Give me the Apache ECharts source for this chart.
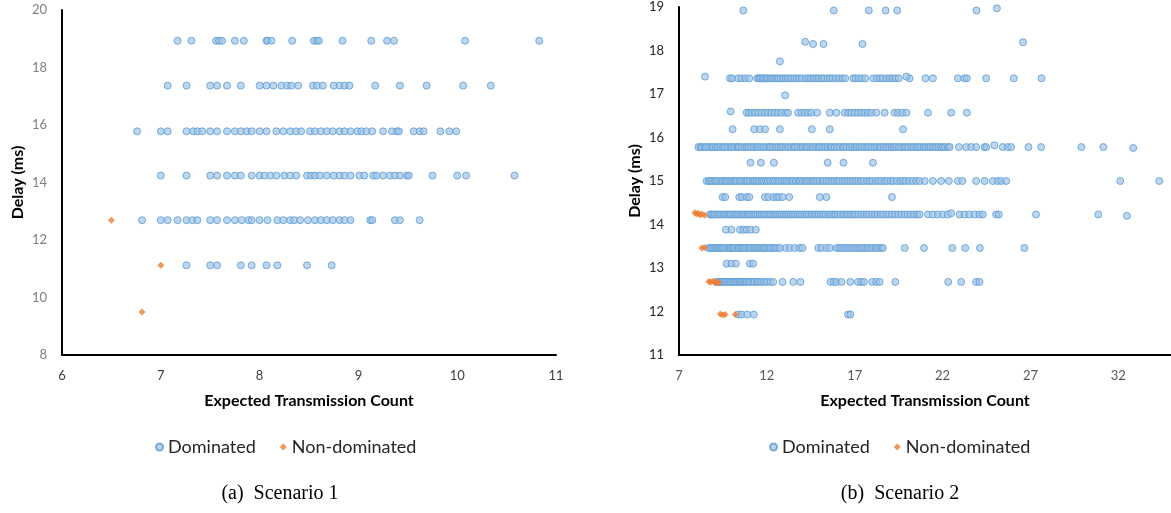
<!DOCTYPE html>
<html>
<head>
<meta charset="utf-8">
<script src="https://cdn.jsdelivr.net/npm/echarts@6/dist/echarts.min.js"></script>
<style>
  html, body { margin: 0; padding: 0; background: #fff; }
  #chart { width: 1171px; height: 513px; }
</style>
</head>
<body>
<div id="chart"></div>
<script>
// ---- Scenario 1: delay levels (ms) and ETX values of dominated solutions per level ----
const s1Levels = [18.93, 17.37, 15.78, 14.24, 12.69, 11.12];
const s1DominatedEtx = [
  [7.17, 7.31, 7.56, 7.59, 7.62, 7.75, 7.84, 8.07, 8.08, 8.12, 8.33, 8.55, 8.58, 8.60, 8.84, 9.13, 9.29, 9.36, 10.08, 10.83],
  [7.07, 7.26, 7.50, 7.57, 7.67, 7.81, 8.00, 8.07, 8.14, 8.22, 8.28, 8.32, 8.39, 8.54, 8.58, 8.64, 8.75, 8.81, 8.86, 8.91, 9.17, 9.42, 9.69, 10.06, 10.34],
  [6.76, 7.00, 7.07, 7.26, 7.33, 7.37, 7.42, 7.50, 7.57, 7.67, 7.75, 7.81, 7.87, 7.92, 8.00, 8.07, 8.17, 8.24, 8.31, 8.37, 8.42, 8.51, 8.56, 8.62, 8.68, 8.74, 8.81, 8.86, 8.92, 8.99, 9.03, 9.08, 9.14, 9.25, 9.34, 9.39, 9.41, 9.56, 9.62, 9.66, 9.83, 9.92, 9.99],
  [7.00, 7.26, 7.50, 7.57, 7.67, 7.75, 7.81, 7.92, 8.00, 8.05, 8.11, 8.17, 8.25, 8.31, 8.37, 8.48, 8.52, 8.56, 8.61, 8.68, 8.75, 8.81, 8.86, 8.92, 9.01, 9.06, 9.15, 9.18, 9.25, 9.32, 9.37, 9.42, 9.49, 9.51, 9.75, 10.00, 10.09, 10.58],
  [6.81, 7.00, 7.07, 7.17, 7.26, 7.32, 7.37, 7.50, 7.57, 7.67, 7.75, 7.82, 7.89, 7.92, 8.00, 8.08, 8.18, 8.24, 8.31, 8.35, 8.41, 8.49, 8.56, 8.62, 8.68, 8.74, 8.81, 8.86, 8.92, 9.12, 9.14, 9.37, 9.42, 9.62],
  [7.26, 7.50, 7.57, 7.81, 7.92, 8.07, 8.18, 8.48, 8.73]
];
// [ETX, delay] of the non-dominated solutions
const s1NonDominated = [[6.50, 12.69], [7.00, 11.12], [6.81, 9.50]];

// ---- Scenario 2 ----
const s2Levels = [18.92, 18.15, 17.75, 17.36, 16.97, 16.57, 16.19, 15.78, 15.42, 15.0, 14.63, 14.23, 13.88, 13.46, 13.10, 12.68, 11.93];
const s2DominatedEtx = [
  [10.66, 15.81, 17.80, 18.76, 19.42, 23.93],
  [14.63, 15.22, 17.44],
  [12.74],
  [9.90, 10.03, 10.37, 10.56, 10.79, 11.00, 11.45, 11.55, 11.62, 11.75, 11.85, 11.97, 12.05, 12.20, 12.30, 12.42, 12.55, 12.66, 12.80, 12.95, 13.08, 13.20, 13.37, 13.55, 13.70, 13.84, 14.00, 14.22, 14.35, 14.50, 14.66, 14.80, 14.95, 15.12, 15.25, 15.45, 15.60, 15.74, 15.92, 16.10, 16.30, 16.46, 16.92, 17.05, 17.22, 17.40, 17.60, 18.05, 18.26, 18.44, 18.60, 18.82, 19.00, 19.15, 19.32, 19.50, 20.12, 21.03, 21.45, 22.87, 23.25, 23.38, 24.48, 26.05, 27.63],
  [13.04],
  [10.85, 10.98, 11.13, 11.32, 11.51, 11.70, 11.89, 12.08, 12.27, 12.45, 12.64, 12.83, 13.08, 13.21, 13.78, 13.97, 14.16, 14.35, 14.54, 14.86, 15.58, 15.96, 16.43, 16.62, 16.81, 17.00, 17.19, 17.38, 17.57, 17.76, 17.95, 18.23, 18.70, 19.27, 19.46, 19.71, 19.94, 21.17, 22.49, 23.38],
  [10.05, 11.28, 11.60, 11.90, 12.74, 14.56, 15.58, 19.75],
  [8.10, 8.22, 8.30, 8.45, 8.55, 8.70, 8.86, 8.95, 9.10, 9.22, 9.35, 9.50, 9.60, 9.75, 9.92, 10.00, 10.15, 10.32, 10.40, 10.55, 10.72, 10.85, 10.95, 11.10, 11.26, 11.40, 11.50, 11.66, 11.80, 11.95, 12.12, 12.20, 12.35, 12.52, 12.65, 12.80, 12.90, 13.06, 13.20, 13.35, 13.52, 13.60, 13.75, 13.92, 14.05, 14.20, 14.30, 14.46, 14.60, 14.75, 14.92, 15.00, 15.15, 15.32, 15.45, 15.60, 15.70, 15.86, 16.00, 16.15, 16.32, 16.40, 16.55, 16.72, 16.85, 17.00, 17.10, 17.26, 17.40, 17.56, 17.70, 17.80, 17.95, 18.12, 18.25, 18.40, 18.50, 18.66, 18.80, 18.95, 19.10, 19.22, 19.35, 19.52, 19.65, 19.80, 19.90, 20.05, 20.22, 20.35, 20.50, 20.62, 20.75, 20.92, 21.05, 21.20, 21.30, 21.46, 21.60, 21.75, 21.90, 22.02, 22.15, 22.30, 22.40, 22.93, 23.35, 23.63, 23.91, 24.39, 24.48, 25.43, 25.71, 25.90, 26.89, 27.61, 29.90, 31.15],
  [11.07, 11.66, 12.40, 15.46, 16.36, 18.04],
  [8.57, 8.70, 8.78, 8.90, 9.05, 9.12, 9.25, 9.40, 9.50, 9.62, 9.70, 9.85, 9.97, 10.10, 10.20, 10.30, 10.45, 10.55, 10.70, 10.82, 10.90, 11.05, 11.20, 11.30, 11.42, 11.55, 11.70, 11.80, 11.95, 12.05, 12.20, 12.35, 12.45, 12.60, 12.70, 12.85, 13.00, 13.10, 13.25, 13.40, 13.50, 13.65, 13.80, 13.90, 14.05, 14.20, 14.30, 14.45, 14.60, 14.70, 14.85, 15.00, 15.15, 15.25, 15.40, 15.55, 15.70, 15.85, 16.00, 16.12, 16.30, 16.45, 16.60, 16.75, 16.90, 17.05, 17.20, 17.35, 17.50, 17.70, 17.85, 18.00, 18.20, 18.35, 18.50, 18.70, 18.85, 19.05, 19.20, 19.40, 19.60, 19.75, 19.90, 20.10, 20.30, 20.50, 20.69, 20.98, 21.45, 21.92, 22.36, 22.87, 23.12, 23.91, 24.39, 24.86, 25.14, 25.33, 25.62, 32.11, 34.33],
  [9.48, 9.63, 10.43, 10.58, 10.85, 11.00, 11.89, 12.08, 12.36, 12.55, 12.70, 12.89, 13.27, 15.01, 15.39, 19.12],
  [8.76, 8.86, 8.95, 9.05, 9.18, 9.28, 9.40, 9.52, 9.62, 9.75, 9.86, 9.95, 10.08, 10.20, 10.30, 10.42, 10.55, 10.65, 10.78, 10.90, 11.00, 11.12, 11.25, 11.35, 11.48, 11.60, 11.72, 11.85, 11.96, 12.10, 12.22, 12.35, 12.48, 12.60, 12.72, 12.85, 12.98, 13.10, 13.22, 13.35, 13.48, 13.60, 13.75, 13.88, 14.00, 14.15, 14.28, 14.40, 14.55, 14.68, 14.80, 14.95, 15.08, 15.22, 15.35, 15.50, 15.62, 15.78, 15.90, 16.05, 16.20, 16.35, 16.50, 16.62, 16.78, 16.92, 17.05, 17.22, 17.38, 17.52, 17.68, 17.82, 18.00, 18.15, 18.30, 18.48, 18.62, 18.80, 18.95, 19.12, 19.30, 19.48, 19.65, 19.84, 20.02, 20.20, 20.38, 20.55, 20.69, 21.17, 21.45, 21.73, 22.02, 22.30, 22.97, 23.25, 23.53, 23.82, 24.10, 24.29, 25.05, 25.20, 27.32, 30.86],
  [9.67, 9.99, 10.47, 10.66, 10.85, 11.07, 11.37],
  [8.67, 8.80, 8.90, 9.00, 9.10, 9.20, 9.30, 9.40, 9.50, 9.60, 9.75, 9.85, 9.95, 10.05, 10.15, 10.30, 10.40, 10.50, 10.60, 10.70, 10.80, 10.95, 11.05, 11.15, 11.30, 11.40, 11.50, 11.60, 11.75, 11.85, 11.95, 12.10, 12.20, 12.35, 12.45, 12.60, 12.74, 13.08, 13.31, 13.59, 13.87, 14.03, 14.92, 15.11, 15.39, 15.58, 15.96, 16.10, 16.25, 16.40, 16.55, 16.70, 16.85, 17.00, 17.15, 17.30, 17.45, 17.60, 17.75, 17.90, 18.05, 18.20, 18.35, 18.50, 18.61, 19.84, 20.94, 22.55, 23.29, 24.12, 26.66],
  [9.71, 9.99, 10.24, 11.03, 11.22],
  [9.14, 9.25, 9.35, 9.45, 9.55, 9.65, 9.75, 9.85, 9.95, 10.05, 10.15, 10.25, 10.35, 10.45, 10.55, 10.65, 10.75, 10.85, 10.95, 11.05, 11.20, 11.30, 11.45, 11.55, 11.70, 11.85, 12.00, 12.20, 12.36, 12.89, 13.50, 13.91, 15.62, 15.81, 15.96, 16.24, 16.75, 17.19, 17.38, 17.53, 18.00, 18.23, 18.42, 19.31, 22.32, 23.06, 23.91, 24.10],
  [10.37, 10.56, 10.88, 11.26, 16.62, 16.75]
];
// dominated points sitting slightly off their level: [ETX, delay]
const s2DominatedOffLevel = [[25.09, 18.97], [14.18, 18.20], [26.58, 18.19], [8.48, 17.40], [19.94, 17.40], [9.94, 16.60], [24.95, 15.82], [32.85, 15.76], [22.49, 14.26], [32.49, 14.20]];
const s2NonDominated = [
  [7.90, 14.27], [8.00, 14.24], [8.10, 14.26], [8.20, 14.22], [8.30, 14.24], [8.45, 14.21],
  [8.30, 13.46], [8.45, 13.47],
  [8.70, 12.69], [8.80, 12.67], [8.95, 12.70], [9.05, 12.66], [9.15, 12.68], [9.25, 12.66],
  [9.35, 11.94], [9.50, 11.92], [9.62, 11.93], [10.20, 11.93]
];

// axis ticks
const s1XTicks = { min: 6, max: 11, interval: 1 };
const s1YTicks = { min: 8, max: 20, interval: 2 };
const s2XTickValues = [7, 12, 17, 22, 27, 32];
const s2XRange = { min: 7, max: 35 };
const s2YTicks = { min: 11, max: 19, interval: 1 };

function rowsToPoints(levels, rows) {
  const pts = [];
  rows.forEach((xs, i) => xs.forEach(x => pts.push([x, levels[i]])));
  return pts;
}

const s1Dominated = rowsToPoints(s1Levels, s1DominatedEtx);
const s2Dominated = rowsToPoints(s2Levels, s2DominatedEtx).concat(s2DominatedOffLevel);

const FONT = 'Lato, "Open Sans", sans-serif';
const domStyle = { color: 'rgba(157,195,230,0.85)', borderColor: '#5b9bd5', borderWidth: 1 };
const nonDomStyle = { color: '#ed7d31' };
const axisLine = { show: true, onZero: false, lineStyle: { color: '#000', width: 2 } };

function legendAt(left) {
  return {
    left: left, top: 433, orient: 'horizontal',
    itemWidth: 7, itemHeight: 7, itemGap: 24,
    textStyle: { fontFamily: FONT, fontSize: 18, color: '#262626' },
    data: [{ name: 'Dominated', icon: 'circle' }, { name: 'Non-dominated', icon: 'diamond' }]
  };
}

const chart = echarts.init(document.getElementById('chart'), null, { renderer: 'canvas' });
chart.setOption({
  animation: false,
  backgroundColor: '#fff',
  grid: [
    { left: 62, top: 10, width: 494, height: 345 },
    { left: 679, top: 7, width: 493, height: 348 }
  ],
  legend: [legendAt(150), legendAt(764)],
  xAxis: [
    {
      gridIndex: 0, type: 'value', min: s1XTicks.min, max: s1XTicks.max, interval: s1XTicks.interval,
      axisLine: axisLine, axisTick: { show: false }, splitLine: { show: false },
      axisLabel: { fontFamily: FONT, fontSize: 13, color: '#404040', margin: 14 },
      name: 'Expected Transmission Count', nameLocation: 'middle', nameGap: 38,
      nameTextStyle: { fontFamily: FONT, fontSize: 16, fontWeight: 'bold', color: '#000' }
    },
    {
      gridIndex: 1, type: 'value', min: s2XRange.min, max: s2XRange.max,
      axisLine: axisLine, axisTick: { show: false }, splitLine: { show: false },
      axisLabel: { fontFamily: FONT, fontSize: 13, color: '#595959', margin: 14, customValues: s2XTickValues },
      name: 'Expected Transmission Count', nameLocation: 'middle', nameGap: 38,
      nameTextStyle: { fontFamily: FONT, fontSize: 16, fontWeight: 'bold', color: '#000' }
    }
  ],
  yAxis: [
    {
      gridIndex: 0, type: 'value', min: s1YTicks.min, max: s1YTicks.max, interval: s1YTicks.interval,
      axisLine: axisLine, axisTick: { show: false }, splitLine: { show: false },
      axisLabel: { fontFamily: FONT, fontSize: 13, color: '#7f7f7f', margin: 15 },
      name: 'Delay (ms)', nameLocation: 'middle', nameGap: 36, nameRotate: 90,
      nameTextStyle: { fontFamily: FONT, fontSize: 16, fontWeight: 'bold', color: '#000' }
    },
    {
      gridIndex: 1, type: 'value', min: s2YTicks.min, max: s2YTicks.max, interval: s2YTicks.interval,
      axisLine: axisLine, axisTick: { show: false }, splitLine: { show: false },
      axisLabel: { fontFamily: FONT, fontSize: 13, color: '#262626', margin: 15 },
      name: 'Delay (ms)', nameLocation: 'middle', nameGap: 36, nameRotate: 90,
      nameTextStyle: { fontFamily: FONT, fontSize: 16, fontWeight: 'bold', color: '#000' }
    }
  ],
  series: [
    { name: 'Dominated', type: 'scatter', xAxisIndex: 0, yAxisIndex: 0, symbol: 'circle', symbolSize: 7, itemStyle: domStyle, data: s1Dominated },
    { name: 'Non-dominated', type: 'scatter', xAxisIndex: 0, yAxisIndex: 0, symbol: 'diamond', symbolSize: 7, itemStyle: nonDomStyle, data: s1NonDominated },
    { name: 'Dominated', type: 'scatter', xAxisIndex: 1, yAxisIndex: 1, symbol: 'circle', symbolSize: 7, itemStyle: domStyle, data: s2Dominated },
    { name: 'Non-dominated', type: 'scatter', xAxisIndex: 1, yAxisIndex: 1, symbol: 'diamond', symbolSize: 7, itemStyle: nonDomStyle, data: s2NonDominated }
  ],
  graphic: [
    { type: 'text', x: 280, y: 494, style: { text: '(a)  Scenario 1', font: '20px "Liberation Serif", serif', fill: '#000', align: 'center', verticalAlign: 'middle' } },
    { type: 'text', x: 900, y: 494, style: { text: '(b)  Scenario 2', font: '20px "Liberation Serif", serif', fill: '#000', align: 'center', verticalAlign: 'middle' } }
  ]
});
</script>
</body>
</html>
